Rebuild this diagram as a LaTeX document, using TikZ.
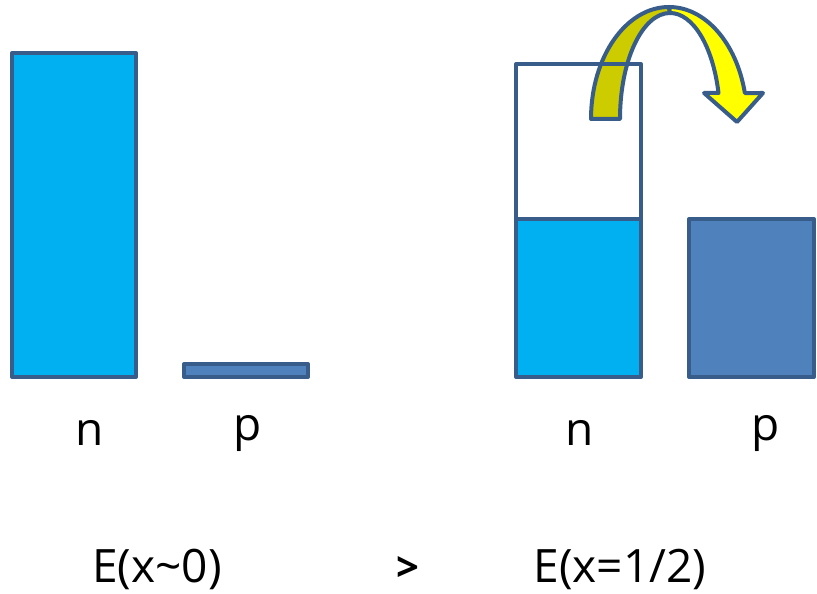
\documentclass[tikz,border=0pt]{standalone}
\usepackage{fontspec}
\setmainfont{Open Sans}
\definecolor{nblue}{RGB}{0,176,240}
\definecolor{pblue}{RGB}{79,129,189}
\definecolor{edgeblue}{RGB}{56,93,138}
\definecolor{darkyel}{RGB}{204,204,0}
\definecolor{brightyel}{RGB}{255,255,0}
\begin{document}
\begin{tikzpicture}[x=1pt,y=1pt,
		bar/.style={line width=4pt,draw=edgeblue,line join=round},
		lbl/.style={font=\fontsize{46}{54}\selectfont},
		eq/.style={lbl,inner sep=0pt,anchor=base}]
	\useasboundingbox (0,0) rectangle (817,594);
	% x near 0
	\draw[bar,fill=nblue] (12,217) rectangle (136,541);
	\draw[bar,fill=pblue] (184,217) rectangle (308,230);
	% x = 1/2
	\draw[bar,fill=nblue] (516,217) rectangle (641,375);
	\draw[bar,fill=pblue] (689,217) rectangle (814,375);
	% curved arrow n -> p
	\draw[bar,fill=darkyel] (591,475) arc[start angle=180,end angle=90,x radius=78,y radius=112]
		-- (670,581) arc[start angle=90,end angle=180,x radius=50,y radius=106] -- cycle;
	\draw[bar,fill=brightyel] (669,587) arc[start angle=90,end angle=13.4,x radius=78,y radius=112]
		-- (763,501) -- (737,472) -- (704,501) -- (718.5,501)
		arc[start angle=14.2,end angle=90,x radius=50,y radius=106] -- cycle;
	\draw[bar] (516,375) rectangle (641,530);
	% labels
	\node[lbl] (n1) at (90,161) {n};
	\node[lbl] (p1) at (248,161) {p};
	\node[lbl] (n2) at (580,161) {n};
	\node[lbl] (p2) at (766,161) {p};
	\node[eq] (e1) at (157,11) {E(x\textasciitilde 0)};
	\node[eq,font=\fontsize{40}{46}\selectfont\bfseries] (gt) at (408,12) {>};
	\node[eq] (e2) at (620,11) {E(x=1/2)};
\end{tikzpicture}
\end{document}
